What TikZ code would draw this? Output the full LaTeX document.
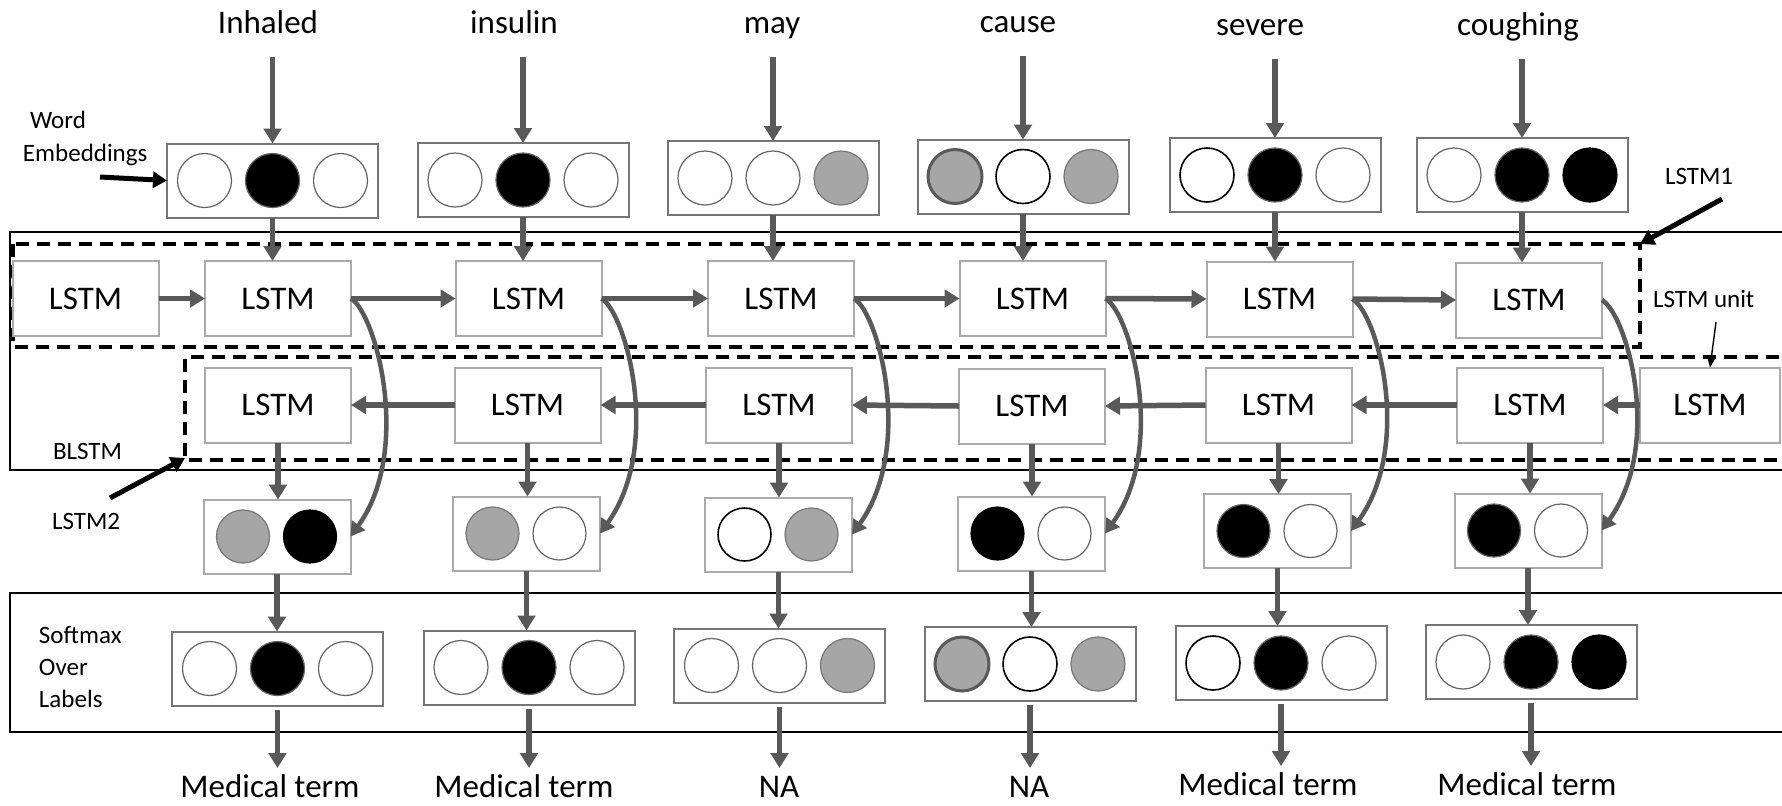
\documentclass[tikz,border=0pt]{standalone}
\usepackage{fontspec}
\setmainfont{Carlito}
\usetikzlibrary{arrows.meta,calc}

\definecolor{arrowgray}{RGB}{89,89,89}
\definecolor{lstmgray}{RGB}{170,170,170}
\definecolor{boxgray}{RGB}{118,118,118}
\definecolor{dotfill}{RGB}{166,166,166}
\definecolor{dotline}{RGB}{100,100,100}

\newcommand{\bigfont}{\fontsize{16.5pt}{19pt}\selectfont}
\newcommand{\smallfont}{\fontsize{12.5pt}{15pt}\selectfont}

\tikzset{
  every node/.style={outer sep=0pt},
  lstm/.style={draw=lstmgray, line width=1pt, fill=white, minimum width=73pt,
    minimum height=37.5pt, inner sep=0pt, font=\bigfont},
  vecthree/.style={draw=boxgray, line width=1pt, minimum width=105.5pt,
    minimum height=37pt, inner sep=0pt},
  vectwo/.style={draw=lstmgray, line width=1pt, minimum width=73.5pt,
    minimum height=37pt, inner sep=0pt},
  dot/.style={circle, inner sep=0pt, minimum size=27pt, line width=0.6pt},
  wc/.style={dot, draw=dotline, fill=white},
  wk/.style={dot, draw=black, line width=0.8pt, fill=white},
  bc/.style={dot, draw=dotline, fill=black},
  bk/.style={dot, draw=black, fill=black},
  gc/.style={dot, draw=boxgray, fill=dotfill},
  gt/.style={dot, draw=arrowgray, line width=1.5pt, fill=dotfill},
  small/.style={minimum size=26.5pt},
  word/.style={font=\bigfont, anchor=base, inner sep=0pt, text depth=12pt},
  tag/.style={font=\bigfont, anchor=base, inner sep=0pt, text height=14.5pt},
  lbl/.style={font=\smallfont, anchor=base west, inner sep=0pt},
  garrow/.style={draw=arrowgray, line width=2.75pt,
    -{Triangle[length=7.5pt,width=8.75pt]}},
  carrow/.style={draw=arrowgray, line width=2.25pt,
    -{Triangle[length=7pt,width=8pt]}},
  karrow/.style={draw=black, line width=2.5pt,
    -{Triangle[length=7pt,width=8pt]}},
  tarrow/.style={draw=black, line width=0.7pt,
    -{Triangle[length=5pt,width=4pt]}},
  frame/.style={draw=black, line width=1pt},
  dashbox/.style={draw=black, line width=1.75pt, dash pattern=on 6.5pt off 4pt},
}

% a vector of three units
\newcommand{\tripvec}[5]{%
  \node[vecthree] (#1) at (#2) {};
  \node[#3] (#1a) at ([xshift=-34pt]#1.center) {};
  \node[#4] (#1b) at (#1.center) {};
  \node[#5] (#1c) at ([xshift=34pt]#1.center) {};
}
% a vector of two units
\newcommand{\pairvec}[4]{%
  \node[vectwo] (#1) at (#2) {};
  \node[#3, small] (#1a) at ([xshift=-17pt]#1.center) {};
  \node[#4, small] (#1b) at ([xshift=16.5pt]#1.center) {};
}

\begin{document}
\begin{tikzpicture}[x=0.5pt, y=-0.5pt]
\useasboundingbox (0,0) rectangle (1782,805);
\clip (0,0) rectangle (1782,805);

% frames around the BLSTM and the softmax layer
\draw[frame] (1800,232) -- (10,232) -- (10,470) -- (1800,470);
\draw[frame] (1800,593) -- (10,593) -- (10,732) -- (1800,732);

% dashed outlines of the forward and backward chains
\draw[dashbox] (13,244) rectangle (1640,347);
\coordinate (fwdcorner) at (1640,244);
\draw[dashbox] (1800,357) -- (185,357) -- (185,460) -- (1800,460);
\coordinate (bwdcorner) at (185,458);

% input words
\node[word] (w1) at (268,33) {Inhaled};
\node[word] (w2) at (514,33) {insulin};
\node[word] (w3) at (772,33) {may};
\node[word] (w4) at (1018,32) {cause};
\node[word] (w5) at (1260,35) {severe};
\node[word] (w6) at (1518,35) {coughing};

% word embeddings
\tripvec{e1}{272.5,180.5}{wc}{bc}{wc}
\tripvec{e2}{523,180}{wc}{bc}{wc}
\tripvec{e3}{773,178}{wc}{wc}{gc}
\tripvec{e4}{1023,176.5}{gt}{wk}{gc}
\tripvec{e5}{1275,175}{wk}{bc}{wc}
\tripvec{e6}{1522,175}{wc}{bc}{bk}

% forward LSTM chain
\node[lstm] (a0) at (85.5,298.5) {LSTM};
\node[lstm] (a1) at (278,298.5) {LSTM};
\node[lstm] (a2) at (528.5,298.5) {LSTM};
\node[lstm] (a3) at (781,298.5) {LSTM};
\node[lstm] (a4) at (1032.5,298.5) {LSTM};
\node[lstm] (a5) at (1279.5,299) {LSTM};
\node[lstm] (a6) at (1529,300) {LSTM};

% backward LSTM chain
\node[lstm] (b1) at (278,405) {LSTM};
\node[lstm] (b2) at (527.5,405) {LSTM};
\node[lstm] (b3) at (779,405) {LSTM};
\node[lstm] (b4) at (1032,406) {LSTM};
\node[lstm] (b5) at (1278.5,405) {LSTM};
\node[lstm] (b6) at (1530,405) {LSTM};
\node[lstm, minimum width=70pt] (b7) at (1710,405) {LSTM};

% concatenated hidden states
\pairvec{o1}{277,536.5}{gc}{bk}
\pairvec{o2}{526.5,533.5}{gc}{wc}
\pairvec{o3}{778.5,534.5}{wk}{gc}
\pairvec{o4}{1031.5,533.5}{bk}{wc}
\pairvec{o5}{1277.5,531}{bc}{wc}
\pairvec{o6}{1528,530.5}{bc}{wc}

% softmax outputs
\tripvec{s1}{277.5,668.5}{wc}{bc}{wc}
\tripvec{s2}{529,667.5}{wc}{bc}{wc}
\tripvec{s3}{779.5,665.5}{wc}{wc}{gc}
\tripvec{s4}{1030,664}{gt}{wk}{gc}
\tripvec{s5}{1281,663}{wk}{bc}{wc}
\tripvec{s6}{1531,662}{wc}{bc}{bk}

% predicted labels
\node[tag] (t1) at (270,797) {Medical term};
\node[tag] (t2) at (524,797) {Medical term};
\node[tag] (t3) at (779,797) {NA};
\node[tag] (t4) at (1029,797) {NA};
\node[tag] (t5) at (1268,795) {Medical term};
\node[tag] (t6) at (1527,795) {Medical term};

% side labels
\node[lbl] (wordlbl) at (30,128) {Word};
\node[lbl] (emblbl) at (23,161) {Embeddings};
\node[lbl] (blstmlbl) at (53,459) {BLSTM};
\node[lbl] (lstmtwolbl) at (52,529) {LSTM2};
\node[lbl] (softlbl) at (39,643) {Softmax};
\node[lbl] (overlbl) at (39,675) {Over};
\node[lbl] (labelslbl) at (39,707) {Labels};
\node[lbl] (lstmonelbl) at (1665,184) {LSTM1};
\node[lbl] (unitlbl) at (1653,307) {LSTM unit};

% vertical data flow
\foreach \i in {1,...,6} {
  \draw[garrow] (e\i.north |- w\i.south) -- (e\i.north);
  \draw[garrow] (e\i.south) -- (e\i.south |- a\i.north);
  \draw[garrow] (b\i.south) -- (b\i.south |- o\i.north);
  \draw[garrow] (o\i.south) -- (o\i.south |- s\i.north);
  \draw[garrow, shorten <=2pt] (s\i.south) -- (s\i.south |- t\i.north);
}

% recurrent connections
\foreach \i [evaluate=\i as \j using int(\i+1)] in {0,...,5}
  \draw[garrow] (a\i.east) -- (a\j.west);
\foreach \i [evaluate=\i as \j using int(\i+1)] in {1,...,6}
  \draw[garrow] (b\j.west) -- (b\i.east);

% forward states joining the concatenation
\foreach \i in {1,...,6}
  \draw[carrow] (a\i.east) .. controls +(25,15) and +(62,-86) .. (o\i.east);

% pointers
\coordinate (embtail) at (100,177);
\draw[karrow] (embtail) -- (e1.west);
\coordinate (fwdtail) at (1722,199);
\draw[karrow] (fwdtail) -- (fwdcorner);
\coordinate (bwdtail) at (110,498);
\draw[karrow] (bwdtail) -- (bwdcorner);
\coordinate (unittail) at (1716,322);
\draw[tarrow] (unittail) -- (b7.north);
\end{tikzpicture}
\end{document}
